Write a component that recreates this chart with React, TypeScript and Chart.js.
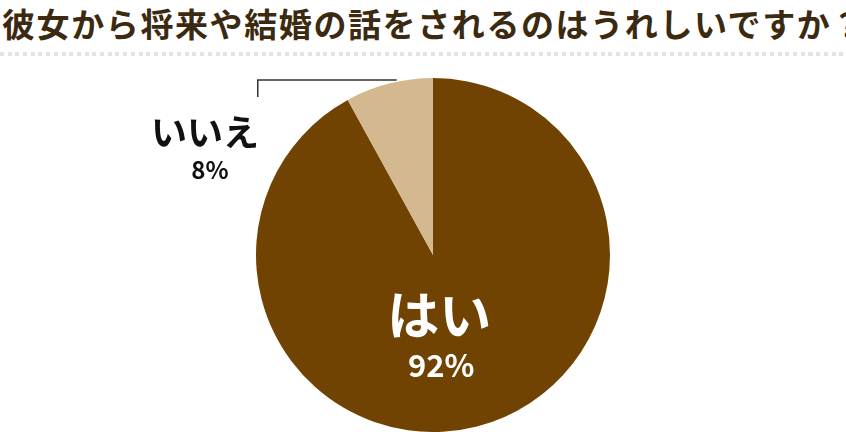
import React, { useEffect, useRef } from "react";
import { Chart, registerables } from "chart.js";

Chart.register(...registerables);

const titleText = "彼女から将来や結婚の話をされるのはうれしいですか？";
const categories = ["はい", "いいえ"];
const values = [92, 8];
const percentLabels = ["92%", "8%"];
const sliceColors = ["#714303", "#d4b88f"];

const FONT = '"Noto Sans CJK JP", "Noto Sans", sans-serif';

const labelPlugin = {
  id: "sliceLabels",
  afterDatasetsDraw(chart: any) {
    const ctx = chart.ctx;
    const meta = chart.getDatasetMeta(0);
    const big = meta.data[0];
    const small = meta.data[1];
    ctx.save();
    ctx.textAlign = "center";
    ctx.textBaseline = "middle";
    {
      const cx = big.x;
      const cy = big.y;
      const r = big.outerRadius;
      const lx = cx + r * 0.035;
      const ly = cy + r * 0.34;
      ctx.fillStyle = "#ffffff";
      ctx.font = `bold 52px ${FONT}`;
      ctx.fillText(categories[0], lx, ly);
      ctx.font = `bold 31px ${FONT}`;
      ctx.fillText(percentLabels[0], lx + 2, ly + 50);
    }
    {
      const cx = small.x;
      const cy = small.y;
      const r = small.outerRadius;
      const topY = cy - r;
      ctx.strokeStyle = "#333333";
      ctx.lineWidth = 1.5;
      ctx.beginPath();
      ctx.moveTo(cx - r * 0.99, topY + 19);
      ctx.lineTo(cx - r * 0.99, topY + 2);
      ctx.lineTo(cx - r * 0.205, topY + 2);
      ctx.stroke();
      ctx.fillStyle = "#111111";
      ctx.font = `bold 36px ${FONT}`;
      ctx.fillText(categories[1], cx - 228, topY + 54);
      ctx.font = `bold 24px ${FONT}`;
      ctx.fillText(percentLabels[1], cx - 223, topY + 92);
    }
    ctx.restore();
  },
};

export default function App() {
  const canvasRef = useRef<HTMLCanvasElement | null>(null);

  useEffect(() => {
    document.body.style.margin = "0";
    const chart = new Chart(canvasRef.current as HTMLCanvasElement, {
      type: "pie",
      data: {
        labels: categories,
        datasets: [
          {
            data: values,
            backgroundColor: sliceColors,
            borderWidth: 0,
          },
        ],
      },
      options: {
        animation: false,
        responsive: false,
        maintainAspectRatio: false,
        layout: { padding: { top: 78, bottom: 0, left: 20, right: 0 } },
        plugins: {
          legend: { display: false },
          tooltip: { enabled: false },
          title: { display: false },
        },
      },
      plugins: [labelPlugin],
    });
    return () => chart.destroy();
  }, []);

  return (
    <div
      style={{
        position: "relative",
        width: 846,
        height: 432,
        overflow: "hidden",
        background: "#ffffff",
      }}
    >
      <div
        style={{
          position: "absolute",
          left: 2,
          top: 5,
          whiteSpace: "nowrap",
          fontFamily: FONT,
          fontWeight: 700,
          fontSize: 33,
          letterSpacing: "1.6px",
          lineHeight: "36px",
          color: "#3b2a10",
        }}
      >
        {titleText}
      </div>
      <div
        style={{
          position: "absolute",
          left: 0,
          top: 52,
          width: 846,
          height: 4,
          backgroundImage:
            "repeating-linear-gradient(to right, #e3e3e3 0px, #e3e3e3 4px, transparent 4px, transparent 7.7px)",
        }}
      />
      <canvas
        ref={canvasRef}
        width={846}
        height={432}
        style={{ position: "absolute", left: 0, top: 0, width: 846, height: 432 }}
      />
    </div>
  );
}
